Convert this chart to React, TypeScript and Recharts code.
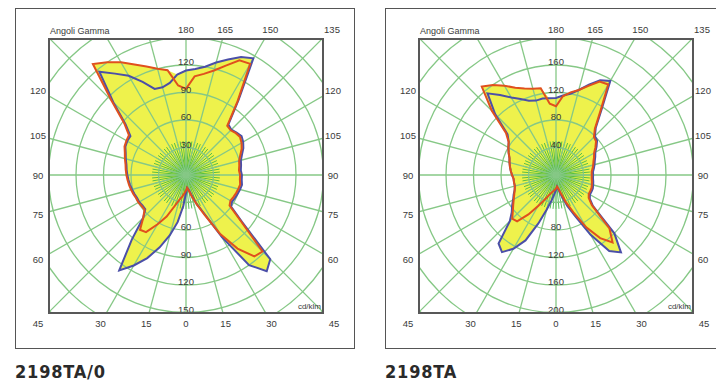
import { RadarChart, Radar, PolarGrid, PolarAngleAxis, PolarRadiusAxis } from "recharts";

// gamma angles of each half plane (deg, 0 = straight down, 180 = straight up)
const GAMMA = [0, 5, 10, 15, 20, 25, 30, 35, 40, 45, 50, 55, 60, 65, 70, 75, 80, 85, 90, 95, 100, 105, 110, 115, 120, 125, 130, 135, 140, 145, 150, 155, 160, 165, 170, 175, 180];

// 2198TA/0  (cd/klm)
const RED_RIGHT_A = [14, 17, 24, 34, 48, 74, 98, 116, 118, 78, 58, 56, 57, 58, 59, 60, 59, 59, 58, 59, 60, 63, 67, 70, 72, 71, 69, 70, 98, 140, 138, 127, 118, 112, 108, 94, 98];
const BLUE_RIGHT_A = [14, 16, 22, 33, 46, 78, 120, 137, 130, 80, 60, 58, 59, 60, 61, 62, 61, 61, 60, 61, 62, 65, 69, 72, 74, 72, 70, 72, 100, 147, 142, 134, 127, 120, 116, 114, 110];
const RED_LEFT_A = [14, 17, 20, 24, 28, 36, 50, 62, 76, 78, 66, 59, 59, 60, 60, 61, 62, 63, 64, 65, 66, 67, 69, 71, 74, 75, 76, 88, 115, 158, 150, 142, 133, 126, 120, 116, 108];
const BLUE_LEFT_A = [15, 20, 34, 52, 68, 84, 100, 114, 127, 92, 66, 58, 58, 59, 59, 60, 61, 62, 63, 64, 65, 66, 68, 70, 73, 74, 74, 86, 112, 147, 135, 125, 112, 100, 99, 102, 110];
const RINGS_A = [30, 60, 90, 120, 150, 180, 210];
const TOP_LABELS_A = [30, 60, 90, 120];
const BOTTOM_LABELS_A = [60, 90, 120, 150];

// 2198TA  (cd/klm)
const RED_RIGHT_B = [17, 20, 28, 42, 60, 88, 112, 128, 110, 68, 58, 55, 55, 55, 54, 53, 52, 52, 52, 54, 56, 58, 61, 64, 70, 76, 78, 88, 112, 152, 150, 138, 128, 122, 115, 100, 104];
const BLUE_RIGHT_B = [17, 22, 32, 48, 66, 100, 135, 147, 120, 70, 60, 57, 57, 57, 56, 55, 54, 54, 54, 56, 58, 60, 63, 66, 72, 78, 80, 90, 115, 158, 152, 140, 128, 120, 116, 112, 112];
const RED_LEFT_B = [17, 20, 22, 24, 27, 32, 40, 52, 70, 88, 90, 82, 76, 71, 67, 64, 62, 62, 62, 64, 66, 68, 70, 72, 76, 80, 84, 95, 132, 168, 160, 150, 140, 134, 130, 128, 112];
const BLUE_LEFT_B = [17, 22, 28, 38, 52, 75, 105, 124, 137, 130, 95, 84, 78, 72, 68, 64, 62, 62, 62, 64, 66, 68, 70, 72, 76, 80, 84, 92, 125, 155, 142, 130, 122, 115, 112, 113, 112];
const RINGS_B = [40, 80, 120, 160, 200, 240, 280];
const TOP_LABELS_B = [40, 80, 120, 160];
const BOTTOM_LABELS_B = [80, 120, 160, 200];

// frame labels
const SIDE_ANGLES = [60, 75, 90, 105, 120];
const BOTTOM_ANGLES = [0, 15, 30, 45];
const TOP_ANGLES = [180, 165, 150, 135];
const GRID_ANGLES = Array.from({ length: 24 }, (_, i) => -90 + i * 15);
const STAR_ANGLES = Array.from({ length: 72 }, (_, i) => -90 + i * 5);

const YELLOW = "#eef24c";
const RED = "#e0501e";
const BLUE = "#4b4fa8";
const GRID = "#86c886";
const LABEL = "#3a3a3a";

const SQ = 274;
const CX = 137;
const CY = 136;
const OUTER = 192.5;
const PX = 186; // centre inside panel
const PY = 175;

type Row = { a: string; red: number; blue: number; fill: number };

function buildRows(redR: number[], blueR: number[], redL: number[], blueL: number[]): Row[] {
  const rows: Row[] = [];
  GAMMA.forEach((g, i) => {
    rows.push({ a: `R${g}`, red: redR[i], blue: blueR[i], fill: Math.max(redR[i], blueR[i]) });
  });
  for (let i = GAMMA.length - 2; i >= 1; i--) {
    rows.push({ a: `L${GAMMA[i]}`, red: redL[i], blue: blueL[i], fill: Math.max(redL[i], blueL[i]) });
  }
  return rows;
}

const rad = (d: number) => (d * Math.PI) / 180;

interface PanelProps {
  x: number;
  title: string;
  rows: Row[];
  rings: number[];
  topLabels: number[];
  bottomLabels: number[];
}

function Panel({ x, title, rows, rings, topLabels, bottomLabels }: PanelProps) {
  const domain: [number, number] = [0, rings[rings.length - 1]];
  const txt = { fontFamily: "'Liberation Sans', Arial, sans-serif", fontSize: 9.5, fill: LABEL };

  const renderTick = (props: any) => {
    const v = props.payload?.value;
    const y = props.y;
    return (
      <g>
        {topLabels.includes(v) && (
          <text x={CX} y={y} textAnchor="middle" {...txt}>{v}</text>
        )}
        {bottomLabels.includes(v) && (
          <text x={CX} y={2 * CY - y} textAnchor="middle" {...txt}>{v}</text>
        )}
      </g>
    );
  };

  const frameLabels: { t: string; x: number; y: number }[] = [];
  BOTTOM_ANGLES.forEach((g) => {
    frameLabels.push({ t: String(g), x: PX + 148 * Math.tan(rad(g)), y: PY + 148 });
    if (g > 0) frameLabels.push({ t: String(g), x: PX - 148 * Math.tan(rad(g)), y: PY + 148 });
  });
  SIDE_ANGLES.forEach((g) => {
    const dy = (147 * Math.cos(rad(g))) / Math.sin(rad(g));
    frameLabels.push({ t: String(g), x: PX - 148, y: PY + dy });
    frameLabels.push({ t: String(g), x: PX + 147, y: PY + dy });
  });
  TOP_ANGLES.forEach((g) => {
    frameLabels.push({ t: String(g), x: PX + 146 * Math.tan(rad(180 - g)), y: PY - 146 });
  });

  return (
    <div style={{ position: "absolute", left: x, top: 0, width: 360, height: 382 }}>
      <div style={{ position: "absolute", left: 15, top: 8, width: 340, height: 341, border: "1.5px solid #555", boxSizing: "border-box" }} />

      {/* yellow area under the grid */}
      <div style={{ position: "absolute", left: 49, top: 39 }}>
        <RadarChart width={SQ} height={SQ} cx={CX} cy={CY} outerRadius={OUTER} startAngle={-90} endAngle={270} data={rows}>
          <PolarAngleAxis dataKey="a" tick={false} axisLine={false} tickLine={false} />
          <PolarRadiusAxis domain={domain} type="number" tick={false} axisLine={false} tickLine={false} />
          <Radar dataKey="fill" stroke="none" fill={YELLOW} fillOpacity={1} dot={false} isAnimationActive={false} />
        </RadarChart>
      </div>

      {/* dense spokes round the centre */}
      <div style={{ position: "absolute", left: PX - 40, top: PY - 40 }}>
        <RadarChart width={80} height={80} cx={40} cy={40} outerRadius={34} data={rows}>
          <PolarGrid gridType="circle" polarAngles={STAR_ANGLES} polarRadius={[]} stroke="#45b845" strokeWidth={0.9} />
        </RadarChart>
      </div>

      {/* grid and curves */}
      <div style={{ position: "absolute", left: 49, top: 39 }}>
        <RadarChart width={SQ} height={SQ} cx={CX} cy={CY} outerRadius={OUTER} startAngle={-90} endAngle={270} data={rows}>
          <PolarGrid gridType="circle" polarAngles={GRID_ANGLES} stroke={GRID} strokeWidth={1.3} />
          <PolarAngleAxis dataKey="a" tick={false} axisLine={false} tickLine={false} />
          <PolarRadiusAxis angle={90} domain={domain} type="number" ticks={rings} tick={renderTick} axisLine={false} tickLine={false} />
          <Radar dataKey="blue" stroke={BLUE} strokeWidth={2} fill="none" fillOpacity={0} dot={false} isAnimationActive={false} />
          <Radar dataKey="red" stroke={RED} strokeWidth={2} fill="none" fillOpacity={0} dot={false} isAnimationActive={false} />
        </RadarChart>
      </div>

      <div style={{ position: "absolute", left: 48, top: 38, width: 276, height: 276, border: "2px solid #585858", boxSizing: "border-box" }} />

      <svg width={360} height={382} style={{ position: "absolute", left: 0, top: 0, pointerEvents: "none" }}>
        <text x={50} y={31} dominantBaseline="central" {...txt} fontSize={9}>Angoli Gamma</text>
        {frameLabels.map((l, i) => (
          <text key={i} x={l.x} y={l.y} textAnchor="middle" dominantBaseline="central" {...txt}>{l.t}</text>
        ))}
        <text x={321} y={309} textAnchor="end" {...txt} fontSize={8}>cd/klm</text>
      </svg>

      <div style={{ position: "absolute", left: 15, top: 363, fontFamily: "'DejaVu Sans Condensed', 'DejaVu Sans', sans-serif", fontWeight: "bold", fontSize: 18, lineHeight: "18px", letterSpacing: "0.8px", color: "#2a2a2a" }}>
        {title}
      </div>
    </div>
  );
}

export default function App() {
  const rowsA = buildRows(RED_RIGHT_A, BLUE_RIGHT_A, RED_LEFT_A, BLUE_LEFT_A);
  const rowsB = buildRows(RED_RIGHT_B, BLUE_RIGHT_B, RED_LEFT_B, BLUE_LEFT_B);
  return (
    <div style={{ position: "absolute", left: 0, top: 0, width: 716, height: 382, background: "#fff", overflow: "hidden" }}>
      <Panel x={0} title="2198TA/0" rows={rowsA} rings={RINGS_A} topLabels={TOP_LABELS_A} bottomLabels={BOTTOM_LABELS_A} />
      <Panel x={370} title="2198TA" rows={rowsB} rings={RINGS_B} topLabels={TOP_LABELS_B} bottomLabels={BOTTOM_LABELS_B} />
    </div>
  );
}
